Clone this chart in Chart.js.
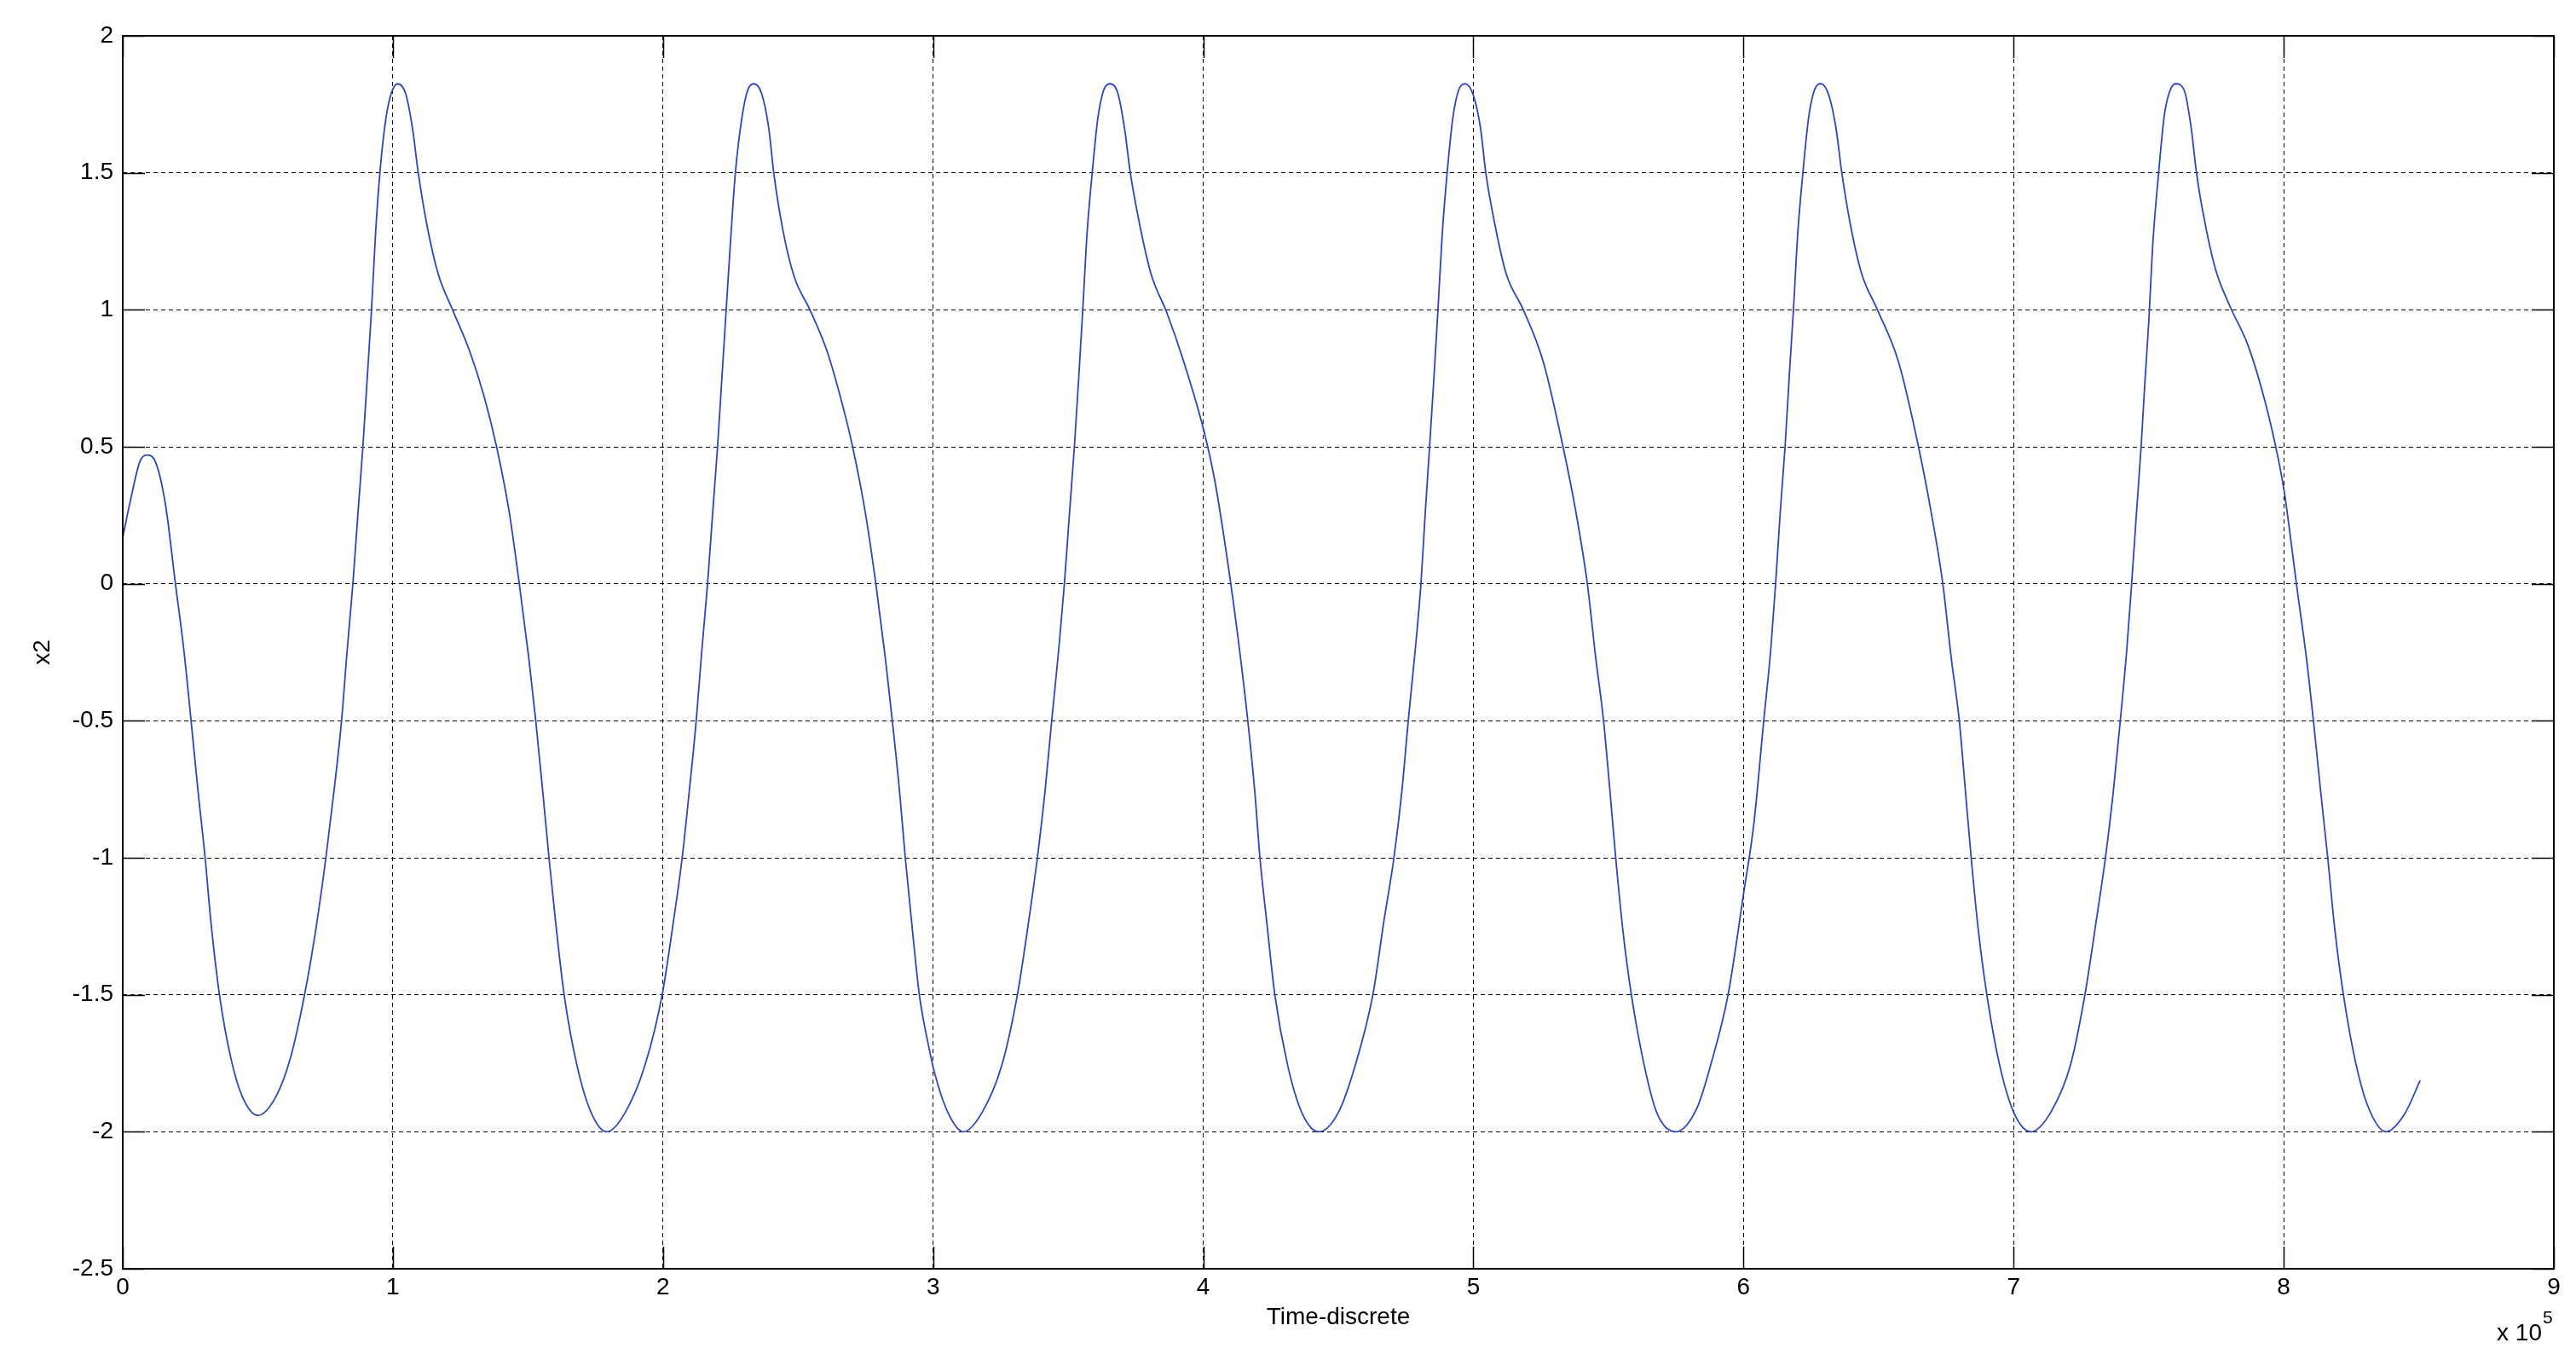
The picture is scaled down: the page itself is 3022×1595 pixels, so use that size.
<!DOCTYPE html>
<html>
<head>
<meta charset="utf-8">
<title>x2 vs Time-discrete</title>
<script src="https://cdn.jsdelivr.net/npm/chart.js@4.4.1/dist/chart.umd.min.js"></script>
<style>
  html, body { margin: 0; padding: 0; background: #fff; }
  #wrap { width: 3022px; height: 1595px; }
</style>
</head>
<body>
<div id="wrap"><canvas id="chart" width="3022" height="1595"></canvas></div>
<script>
// time axis is in units of 10^5 samples (shown as "x 10^5" at the corner)
const timeSteps = [
  0.000, 0.032, 0.063, 0.089, 0.121, 0.158, 0.195, 0.226, 0.253, 0.279,
  0.305, 0.326, 0.358, 0.400, 0.442, 0.500, 0.568, 0.621, 0.673, 0.715,
  0.752, 0.784, 0.810, 0.831, 0.852, 0.871, 0.889, 0.905, 0.921, 0.936,
  0.952, 0.973, 0.994, 1.018, 1.047, 1.073, 1.094, 1.126, 1.168, 1.221,
  1.284, 1.336, 1.384, 1.431, 1.468, 1.503, 1.529, 1.555, 1.578, 1.602,
  1.634, 1.681, 1.734, 1.792, 1.860, 1.934, 1.997, 2.039, 2.071, 2.097,
  2.123, 2.144, 2.165, 2.184, 2.202, 2.218, 2.234, 2.252, 2.268, 2.292,
  2.313, 2.336, 2.365, 2.392, 2.410, 2.444, 2.486, 2.544, 2.607, 2.660,
  2.702, 2.749, 2.788, 2.823, 2.849, 2.876, 2.897, 2.923, 2.949, 2.986,
  3.004, 3.055, 3.112, 3.181, 3.255, 3.312, 3.354, 3.386, 3.414, 3.439,
  3.465, 3.486, 3.505, 3.523, 3.539, 3.554, 3.570, 3.589, 3.610, 3.631,
  3.654, 3.684, 3.709, 3.730, 3.765, 3.807, 3.865, 3.928, 4.002, 4.044,
  4.102, 4.138, 4.165, 4.191, 4.210, 4.238, 4.265, 4.312, 4.365, 4.428,
  4.500, 4.562, 4.628, 4.669, 4.706, 4.735, 4.759, 4.785, 4.806, 4.822,
  4.838, 4.854, 4.869, 4.885, 4.903, 4.924, 4.945, 4.969, 5.001, 5.027,
  5.046, 5.080, 5.122, 5.185, 5.259, 5.332, 5.380, 5.422, 5.453, 5.482,
  5.506, 5.527, 5.553, 5.585, 5.632, 5.679, 5.748, 5.827, 5.879, 5.943,
  6.002, 6.038, 6.075, 6.101, 6.119, 6.136, 6.154, 6.169, 6.185, 6.201,
  6.220, 6.241, 6.262, 6.287, 6.317, 6.343, 6.364, 6.396, 6.438, 6.496,
  6.574, 6.648, 6.695, 6.738, 6.769, 6.799, 6.822, 6.843, 6.869, 6.901,
  6.948, 7.001, 7.064, 7.137, 7.211, 7.264, 7.306, 7.340, 7.369, 7.395,
  7.419, 7.437, 7.455, 7.472, 7.487, 7.500, 7.516, 7.537, 7.558, 7.579,
  7.600, 7.632, 7.658, 7.677, 7.705, 7.747, 7.800, 7.868, 7.931, 7.979,
  8.003, 8.025, 8.047, 8.084, 8.110, 8.137, 8.163, 8.189, 8.221, 8.268,
  8.315, 8.379, 8.447, 8.505
];

const x2Values = [
  0.17, 0.32, 0.445, 0.47, 0.445, 0.29, 0.0, -0.24, -0.5, -0.76,
  -1.0, -1.23, -1.5, -1.73, -1.87, -1.94, -1.87, -1.73, -1.5, -1.26,
  -1.0, -0.74, -0.5, -0.24, 0.0, 0.26, 0.5, 0.75, 1.0, 1.28,
  1.5, 1.69, 1.79, 1.825, 1.79, 1.66, 1.5, 1.31, 1.13, 1.0,
  0.85, 0.69, 0.5, 0.26, 0.0, -0.27, -0.5, -0.76, -1.0, -1.23,
  -1.5, -1.755, -1.93, -2.0, -1.93, -1.755, -1.5, -1.23, -1.0, -0.76,
  -0.5, -0.24, 0.0, 0.26, 0.5, 0.75, 1.0, 1.28, 1.5, 1.70,
  1.80, 1.825, 1.79, 1.66, 1.5, 1.29, 1.12, 1.0, 0.85, 0.67,
  0.5, 0.26, 0.0, -0.27, -0.5, -0.76, -1.0, -1.26, -1.5, -1.70,
  -1.78, -1.93, -2.0, -1.93, -1.755, -1.5, -1.23, -1.0, -0.76, -0.5,
  -0.24, 0.0, 0.26, 0.5, 0.75, 1.0, 1.28, 1.5, 1.70, 1.80,
  1.825, 1.79, 1.66, 1.5, 1.31, 1.13, 0.99, 0.81, 0.56, 0.37,
  0.0, -0.27, -0.5, -0.76, -1.0, -1.26, -1.5, -1.755, -1.93, -2.0,
  -1.93, -1.76, -1.5, -1.23, -1.0, -0.76, -0.5, -0.24, 0.0, 0.26,
  0.5, 0.75, 1.0, 1.28, 1.5, 1.70, 1.80, 1.825, 1.78, 1.66,
  1.5, 1.31, 1.13, 1.0, 0.81, 0.5, 0.26, 0.0, -0.27, -0.5,
  -0.76, -1.0, -1.26, -1.5, -1.755, -1.93, -2.0, -1.915, -1.755, -1.5,
  -1.12, -0.88, -0.5, -0.24, 0.0, 0.26, 0.5, 0.75, 1.0, 1.28,
  1.5, 1.70, 1.80, 1.825, 1.78, 1.66, 1.5, 1.31, 1.13, 1.0,
  0.81, 0.5, 0.26, 0.0, -0.27, -0.5, -0.76, -1.0, -1.26, -1.5,
  -1.755, -1.93, -2.0, -1.93, -1.755, -1.5, -1.23, -1.0, -0.76, -0.5,
  -0.24, 0.0, 0.26, 0.5, 0.75, 0.95, 1.25, 1.5, 1.71, 1.80,
  1.825, 1.80, 1.66, 1.5, 1.335, 1.15, 1.015, 0.87, 0.665, 0.46,
  0.33, 0.17, 0.0, -0.27, -0.5, -0.76, -1.0, -1.26, -1.5, -1.755,
  -1.915, -2.0, -1.936, -1.813
];

const xTicks = [0, 1, 2, 3, 4, 5, 6, 7, 8, 9];
const yTicks = [-2.5, -2, -1.5, -1, -0.5, 0, 0.5, 1, 1.5, 2];

const FONT = '"Liberation Sans", Arial, sans-serif';
const TICK_LEN = 26;

// matlab-ish axes box: solid frame, inner tick marks on all 4 sides, exponent label
const matlabFrame = {
    id: 'matlabFrame',
    afterDraw(chart) {
        const { ctx, chartArea: a, scales } = chart;
        const xs = scales.x, ys = scales.y;
        ctx.save();
        ctx.strokeStyle = '#000';
        ctx.lineWidth = 1.5;
        ctx.beginPath();
        xTicks.forEach(t => {
            const px = Math.round(xs.getPixelForValue(t)) + 0.5;
            ctx.moveTo(px, a.bottom); ctx.lineTo(px, a.bottom - TICK_LEN);
            ctx.moveTo(px, a.top); ctx.lineTo(px, a.top + TICK_LEN);
        });
        yTicks.forEach(t => {
            const py = Math.round(ys.getPixelForValue(t)) + 0.5;
            ctx.moveTo(a.left, py); ctx.lineTo(a.left + TICK_LEN, py);
            ctx.moveTo(a.right, py); ctx.lineTo(a.right - TICK_LEN, py);
        });
        ctx.stroke();

        ctx.lineWidth = 2;
        ctx.strokeRect(a.left, a.top, a.right - a.left, a.bottom - a.top);

        ctx.fillStyle = '#000';
        ctx.textBaseline = 'alphabetic';
        ctx.textAlign = 'right';
        ctx.font = '28px ' + FONT;
        ctx.fillText('x 10', a.right - 14, a.bottom + 84);
        ctx.textAlign = 'left';
        ctx.font = '21px ' + FONT;
        ctx.fillText('5', a.right - 13, a.bottom + 64);
        ctx.restore();
    }
};

const points = timeSteps.map((t, i) => ({ x: t, y: x2Values[i] }));

new Chart(document.getElementById('chart'), {
    type: 'line',
    data: {
        datasets: [{
            label: 'x2',
            data: points,
            borderColor: '#2a47c2',
            borderWidth: 1.8,
            pointRadius: 0,
            fill: false,
            cubicInterpolationMode: 'monotone'
        }]
    },
    options: {
        responsive: false,
        devicePixelRatio: 1,
        animation: false,
        layout: { padding: { top: 42, right: 26, left: 0, bottom: 0 } },
        plugins: {
            legend: { display: false },
            tooltip: { enabled: false }
        },
        scales: {
            x: {
                type: 'linear',
                min: 0,
                max: 9,
                afterFit: s => { s.height = 107; },
                afterBuildTicks: s => { s.ticks = xTicks.map(v => ({ value: v })); },
                ticks: {
                    autoSkip: false,
                    maxRotation: 0,
                    padding: 5,
                    color: '#000',
                    font: { family: FONT, size: 28 },
                    callback: v => String(v)
                },
                grid: { color: '#000', lineWidth: 1, drawTicks: false },
                border: { display: false, dash: [5, 4] },
                title: {
                    display: true,
                    text: 'Time-discrete',
                    color: '#000',
                    font: { family: FONT, size: 28 },
                    padding: { top: 0, bottom: 33 }
                }
            },
            y: {
                min: -2.5,
                max: 2,
                afterFit: s => { s.width = 144; },
                afterBuildTicks: s => { s.ticks = yTicks.map(v => ({ value: v })); },
                ticks: {
                    autoSkip: false,
                    padding: 11,
                    color: '#000',
                    font: { family: FONT, size: 28 },
                    callback: v => String(v)
                },
                grid: { color: '#000', lineWidth: 1, drawTicks: false },
                border: { display: false, dash: [5, 4] },
                title: {
                    display: true,
                    text: 'x2',
                    color: '#000',
                    font: { family: FONT, size: 28 },
                    padding: { top: 33, bottom: 0 }
                }
            }
        }
    },
    plugins: [matlabFrame]
});
</script>
</body>
</html>
